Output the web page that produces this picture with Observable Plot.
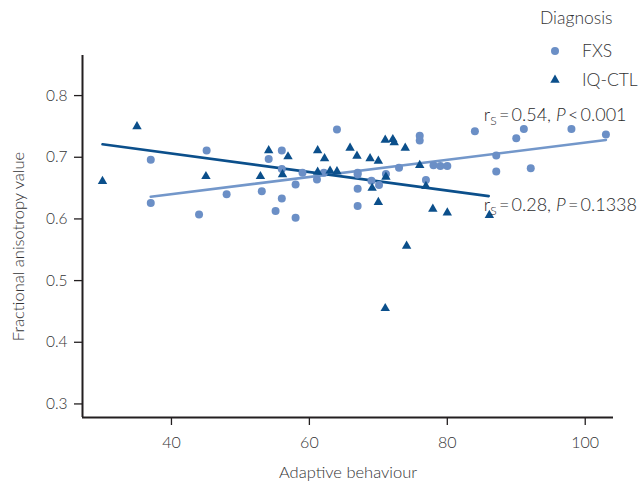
<!DOCTYPE html>
<html><head><meta charset="utf-8">
<script src="https://cdn.jsdelivr.net/npm/d3@7"></script>
<script src="https://cdn.jsdelivr.net/npm/@observablehq/plot@0.6"></script>
<style>
body{margin:0;background:#fff;font-family:Lato,sans-serif}
#wrap{position:relative;width:642px;height:488px}
#legend{position:absolute;left:0;top:0;pointer-events:none}
svg text{font-weight:300}
</style></head><body><div id="wrap"></div>
<script>
// FXS group (circles)
const fxsX=[37.0,37.0,44.0,45.1,48.0,53.1,54.1,55.1,56.0,56.0,56.0,58.0,58.0,59.0,61.1,62.1,64.0,67.0,67.0,67.0,67.0,69.0,70.1,71.1,73.0,76.0,76.0,76.9,78.0,79.0,80.0,84.0,87.1,87.1,90.0,91.1,92.1,98.0,103.0];
const fxsY=[0.696,0.626,0.607,0.711,0.640,0.645,0.697,0.613,0.711,0.681,0.633,0.656,0.602,0.675,0.664,0.675,0.745,0.675,0.672,0.649,0.621,0.662,0.655,0.673,0.683,0.735,0.727,0.663,0.687,0.686,0.686,0.742,0.703,0.677,0.731,0.746,0.682,0.746,0.737];
// IQ-CTL group (triangles)
const ctlX=[30.0,35.0,45.0,52.9,54.1,56.1,56.9,61.2,62.2,61.2,63.0,64.0,65.9,66.9,68.8,69.1,70.0,70.0,71.0,71.0,71.1,72.1,72.3,73.9,74.1,76.0,76.9,77.9,80.0,86.1];
const ctlY=[0.661,0.750,0.669,0.669,0.711,0.672,0.701,0.711,0.698,0.676,0.678,0.677,0.715,0.702,0.698,0.650,0.694,0.627,0.728,0.455,0.668,0.729,0.724,0.715,0.556,0.687,0.653,0.616,0.610,0.606];
// fitted lines (end points)
const fxsFitX=[37,103], fxsFitY=[0.636,0.728];
const ctlFitX=[30,86], ctlFitY=[0.721,0.637];
// annotations
const annotX=[85.3,85.3], annotY=[0.768,0.623];
const annotR=["0.54","0.28"], annotOp=["<","="], annotP=["0.001","0.1338"];
// ticks
const xTicks=[40,60,80,100];
const yTicks=[0.3,0.4,0.5,0.6,0.7,0.8];
const xDomain=[27.1,104.1], yDomain=[0.278,0.865];
const groups=["FXS","IQ-CTL"];

const fxs=fxsX.map((x,i)=>({x,y:fxsY[i]}));
const ctl=ctlX.map((x,i)=>({x,y:ctlY[i]}));
const fxsFit=fxsFitX.map((x,i)=>({x,y:fxsFitY[i]}));
const ctlFit=ctlFitX.map((x,i)=>({x,y:ctlFitY[i]}));
const annots=annotX.map((x,i)=>({x,y:annotY[i],r:annotR[i],op:annotOp[i],p:annotP[i],key:"ANNOT"+i}));

const cFXS="#6b8fc6", cCTL="#0b4f8b", axisC="#231f20", txtC="#333335";

const plot=Plot.plot({
  width:642,height:488,marginLeft:82,marginRight:29,marginTop:55,marginBottom:71,
  x:{domain:xDomain},
  y:{domain:yDomain},
  style:{fontFamily:"Lato, sans-serif",fontSize:"15px",color:txtC,background:"#fff"},
  marks:[
    Plot.axisX({ticks:xTicks,tickSize:8,tickPadding:11,fontSize:16,label:null,stroke:axisC,strokeWidth:1.3,fill:txtC}),
    Plot.axisY({ticks:yTicks,tickSize:8,tickPadding:7,fontSize:15.5,label:null,stroke:axisC,strokeWidth:1.3,fill:txtC,tickFormat:d3.format(".1f")}),
    Plot.ruleX([xDomain[0]],{stroke:axisC,strokeWidth:2}),
    Plot.ruleY([yDomain[0]],{stroke:axisC,strokeWidth:2}),
    Plot.line(fxsFit,{x:"x",y:"y",stroke:"#7397ca",strokeWidth:2.6}),
    Plot.line(ctlFit,{x:"x",y:"y",stroke:cCTL,strokeWidth:2.6}),
    Plot.dot(fxs,{x:"x",y:"y",r:4,fill:cFXS,stroke:"none"}),
    Plot.dot(ctl,{x:"x",y:"y",r:3.5,symbol:"triangle",fill:cCTL,stroke:"none"}),
    Plot.text(annots,{x:"x",y:"y",text:"key",textAnchor:"start",fontSize:18,fill:"#2a2a2c"}),
    Plot.text(["Adaptive behaviour"],{frameAnchor:"bottom",textAnchor:"middle",lineAnchor:"middle",dy:55,fontSize:16.5,fill:txtC}),
    Plot.text(["Fractional anisotropy value"],{frameAnchor:"left",textAnchor:"middle",lineAnchor:"middle",dx:-64,dy:10,rotate:-90,fontSize:16.5,fill:txtC})
  ]
});
document.getElementById("wrap").appendChild(plot);

// rich text for annotations (subscript s, italic P)
d3.select(plot).selectAll("text").each(function(){
  const t=d3.select(this);
  const a=annots.find(d=>d.key===this.textContent);
  if(!a) return;
  t.text(null);
  t.append("tspan").text("r");
  t.append("tspan").attr("font-size","12").attr("dy","4").text("S");
  t.append("tspan").attr("dy","-4").text("\u2009=\u2009"+a.r+", ");
  t.append("tspan").attr("font-style","italic").text("P");
  t.append("tspan").text("\u2009"+a.op+"\u2009"+a.p);
});

// legend
const lg=d3.select("#wrap").append("svg").attr("id","legend").attr("width",642).attr("height",100)
  .style("font-family","Lato, sans-serif");
lg.append("text").attr("x",540).attr("y",18).attr("dy","0.35em").attr("font-size",17.5).attr("fill",txtC).text("Diagnosis");
const sym=[d3.symbol(d3.symbolCircle,Math.PI*4*4)(),d3.symbol(d3.symbolTriangle,Math.PI*3.5*3.5)()];
groups.forEach((g,i)=>{
  const y=[51,80][i];
  lg.append("path").attr("d",sym[i]).attr("transform",`translate(555,${y})`).attr("fill",[cFXS,cCTL][i]);
  lg.append("text").attr("x",582).attr("y",y).attr("dy","0.35em").attr("font-size",17.5).attr("fill",txtC).text(g);
});
</script></body></html>
